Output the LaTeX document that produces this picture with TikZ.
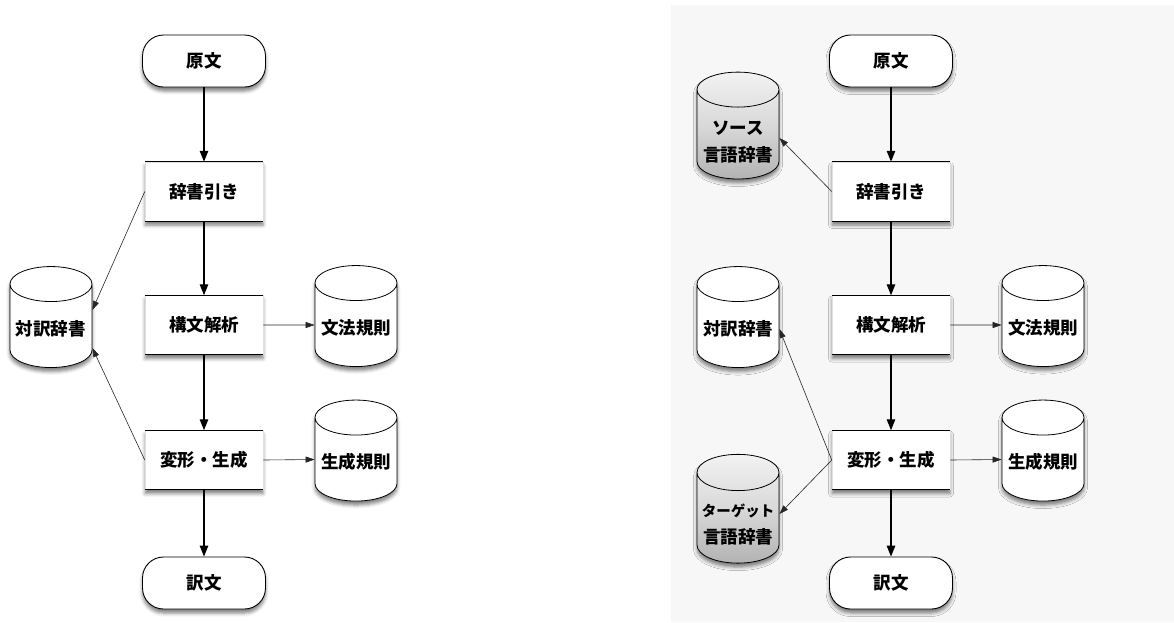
\documentclass[tikz,border=0pt]{standalone}
\usepackage{fontspec}
\setmainfont{Noto Sans CJK JP}
\usetikzlibrary{shapes.geometric,arrows.meta,shadows.blur}

% stacked text inside a store, moved down onto the body of the cylinder
% (the box keeps its size, so only the ink moves)
\newcommand{\storetext}[2]{\raisebox{#1}[\height][\depth]{\begin{tabular}{@{}c@{}}#2\end{tabular}}}

\tikzset{
  softshadow/.style={blur shadow={shadow xshift=0pt,shadow yshift=-4pt,
      shadow blur radius=3.5pt,shadow opacity=50}},
  nodetext/.style={font=\fontsize{17.5}{27}\selectfont\bfseries},
  terminal/.style={nodetext,draw=black,line width=0.9pt,fill=white,rounded corners=21pt,
      minimum width=123pt,minimum height=52pt,inner sep=0pt,softshadow},
  procbox/.style={nodetext,draw=gray!25,line width=0.5pt,fill=white,
      minimum width=118pt,minimum height=59pt,inner sep=0pt,softshadow,
      append after command={
        (\tikzlastnode.north west) edge[draw=black,line width=1pt,-] (\tikzlastnode.north east)
        (\tikzlastnode.south west) edge[draw=black,line width=1pt,-] (\tikzlastnode.south east)}},
  store/.style={nodetext,cylinder,shape border rotate=90,aspect=0.5,draw=black,line width=0.8pt,
      minimum width=82pt,minimum height=101pt,inner sep=0pt,align=center,softshadow},
  plainstore/.style={store,fill=white},
  greystore/.style={store,top color=gray!10,bottom color=gray!60,middle color=gray!30},
  mainarrow/.style={draw=black,line width=1.3pt,arrows={-Stealth[length=11pt,width=8.5pt,inset=0pt]}},
  sidearrow/.style={draw=black!85,line width=0.6pt,arrows={-Stealth[length=9pt,width=6pt,inset=0pt]}}
}

\begin{document}
\begin{tikzpicture}[x=1pt,y=-1pt]
\useasboundingbox (0,0) rectangle (1174,622);
% light panel behind the extended pipeline
\fill[black!3] (671,5) rectangle (1174,622);

% ---- basic transfer pipeline ----
\node[terminal] (srcA) at (204,61) {原文};
\node[procbox]  (lookA) at (204,191.5) {辞書引き};
\node[procbox]  (parseA) at (204,325) {構文解析};
\node[procbox]  (genA) at (204,460) {変形・生成};
\node[terminal] (outA) at (204,583) {訳文};
\node[plainstore] (bidictA) at (51,326) {\storetext{-4pt}{対訳辞書}};
\node[plainstore] (gramA) at (356,325) {\storetext{-4pt}{文法規則}};
\node[plainstore] (grulesA) at (356,459.5) {\storetext{-4pt}{生成規則}};

\draw[mainarrow] (srcA.south) -- (lookA.north);
\draw[mainarrow] (lookA.south) -- (parseA.north);
\draw[mainarrow] (parseA.south) -- (genA.north);
\draw[mainarrow] (genA.south) -- (outA.north);
\draw[sidearrow] (parseA.east) -- (gramA.west);
\draw[sidearrow] (genA.east) -- (grulesA.west);
\draw[sidearrow] (lookA.west) -- ([yshift=16pt]bidictA.east);
\draw[sidearrow] (genA.west) -- ([yshift=-22pt]bidictA.east);

% ---- pipeline with monolingual dictionaries ----
\node[terminal] (srcB) at (891,61) {原文};
\node[procbox]  (lookB) at (891,191.5) {辞書引き};
\node[procbox]  (parseB) at (891,325) {構文解析};
\node[procbox]  (genB) at (891,460) {変形・生成};
\node[terminal] (outB) at (891,583) {訳文};
\node[greystore]  (srcdict) at (738,134.5) {\storetext{-8pt}{ソース\\言語辞書}};
\node[plainstore] (bidictB) at (738,326) {\storetext{-4pt}{対訳辞書}};
\node[greystore]  (tgtdict) at (738,518) {\storetext{-7pt}{{\fontsize{14.5}{26}\selectfont ターゲット}\\言語辞書}};
\node[plainstore] (gramB) at (1043,325) {\storetext{-4pt}{文法規則}};
\node[plainstore] (grulesB) at (1043,459.5) {\storetext{-4pt}{生成規則}};

\draw[mainarrow] (srcB.south) -- (lookB.north);
\draw[mainarrow] (lookB.south) -- (parseB.north);
\draw[mainarrow] (parseB.south) -- (genB.north);
\draw[mainarrow] (genB.south) -- (outB.north);
\draw[sidearrow] (parseB.east) -- (gramB.west);
\draw[sidearrow] (genB.east) -- (grulesB.west);
\draw[sidearrow] (lookB.west) -- ([yshift=-3.5pt]srcdict.east);
\draw[sidearrow] (genB.west) -- ([yshift=-3pt]bidictB.east);
\draw[sidearrow] (genB.west) -- ([yshift=4pt]tgtdict.east);
\end{tikzpicture}
\end{document}
